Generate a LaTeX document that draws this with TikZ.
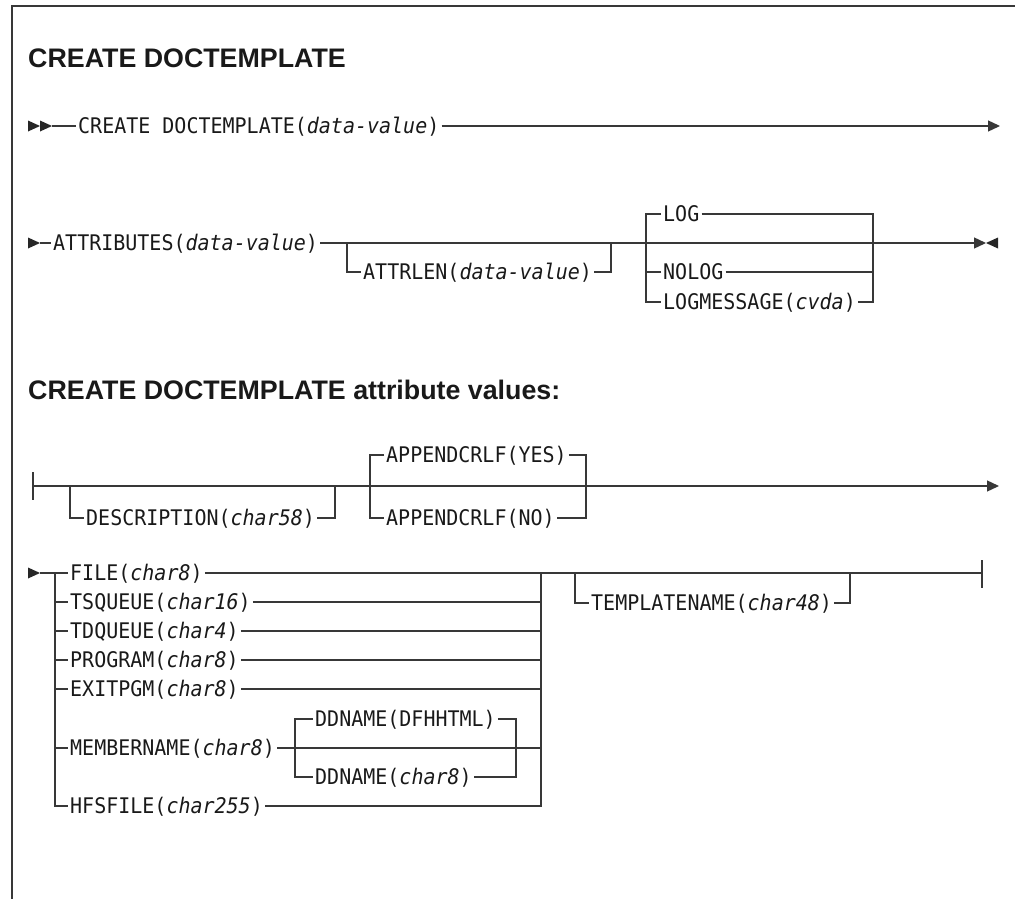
\documentclass[tikz,border=0pt]{standalone}
\usepackage{fontspec}
\setmainfont{Liberation Sans}
\newfontfamily\synfont[FakeStretch=0.93]{DejaVu Sans Mono}
\usetikzlibrary{arrows.meta}

\newcommand{\var}[1]{\textit{#1}}

\tikzset{
  rail/.style={line width=1.3pt, draw=black!78},
  tip/.style={-{Triangle[length=12pt, width=11pt]}},
  syn/.style={anchor=west, inner xsep=2pt, inner ysep=0pt, text height=15.7pt, text depth=0pt,
    text=black!90, font=\synfont\fontsize{21.5}{21.5}\selectfont},
  head/.style={anchor=base west, inner sep=0pt, text=black!90, font=\bfseries\fontsize{26.8}{30}\selectfont},
  fwd/.pic={\fill[black!85] (0, -5.5) -- (12, 0) -- (0, 5.5) -- cycle;}
}

\begin{document}
\begin{tikzpicture}[x=1pt, y=-1pt]
\useasboundingbox (0, 0) rectangle (1015, 899);
\draw[rail, line width=1.5pt] (1015, 6) -- (12, 6) -- (12, 899);

\node at (28, 68) [head] (title) {CREATE DOCTEMPLATE};

% command line
\pic at (28, 126) {fwd};
\pic at (40, 126) {fwd};
\coordinate (s1) at (52, 126);
\coordinate (e1) at (1000, 126);
\node at (76, 126) [syn] (create) {CREATE DOCTEMPLATE(\var{data-value})};
\draw[rail] (s1) -- (create.west);
\draw[rail, tip] (create.east) -- (e1);

% attributes, log
\pic at (28, 243) {fwd};
\coordinate (s2) at (40, 243);
\node at (51, 243) [syn] (attr) {ATTRIBUTES(\var{data-value})};
\node at (361, 272) [syn] (attrlen) {ATTRLEN(\var{data-value})};
\coordinate (al) at (347, 243);
\coordinate (ar) at (611, 243);
\node at (661, 214) [syn] (log) {LOG};
\node at (661, 272) [syn] (nolog) {NOLOG};
\node at (661, 302) [syn] (logmsg) {LOGMESSAGE(\var{cvda})};
\coordinate (ll) at (646, 243);
\coordinate (lr) at (873, 243);
\coordinate (e2) at (986, 243);
\draw[rail] (s2) -- (attr.west);
\draw[rail, tip] (attr.east) -- (e2);
\pic[xscale=-1] at (998, 243) {fwd};
\draw[rail] (al) |- (attrlen.west);
\draw[rail] (attrlen.east) -| (ar);
\draw[rail] (log.west) -| (ll) |- (logmsg.west);
\draw[rail] (nolog.west) -- (nolog.west -| ll);
\draw[rail] (log.east) -| (lr) |- (logmsg.east);
\draw[rail] (nolog.east) -- (nolog.east -| lr);

\node at (28, 399) [head] (subtitle) {CREATE DOCTEMPLATE attribute values:};

% description, appendcrlf
\coordinate (bt) at (33, 472);
\coordinate (bb) at (33, 500);
\coordinate (s3) at (33, 486);
\coordinate (e3) at (999, 486);
\node at (84, 518) [syn] (desc) {DESCRIPTION(\var{char58})};
\coordinate (dl) at (70, 486);
\coordinate (dr) at (335, 486);
\node at (384, 455) [syn] (yes) {APPENDCRLF(YES)};
\node at (384, 518) [syn] (no) {APPENDCRLF(NO)};
\coordinate (cl) at (370, 486);
\coordinate (cr) at (586, 486);
\draw[rail] (bt) -- (bb);
\draw[rail, tip] (s3) -- (e3);
\draw[rail] (dl) |- (desc.west);
\draw[rail] (desc.east) -| (dr);
\draw[rail] (yes.west) -| (cl) |- (no.west);
\draw[rail] (yes.east) -| (cr) |- (no.east);

% source, templatename
\pic at (28, 573) {fwd};
\coordinate (s4) at (40, 573);
\coordinate (gl) at (55, 573);
\coordinate (gr) at (541, 573);
\node at (68, 573) [syn] (file) {FILE(\var{char8})};
\node at (68, 602) [syn] (tsq) {TSQUEUE(\var{char16})};
\node at (68, 631) [syn] (tdq) {TDQUEUE(\var{char4})};
\node at (68, 660) [syn] (prog) {PROGRAM(\var{char8})};
\node at (68, 689) [syn] (exit) {EXITPGM(\var{char8})};
\node at (68, 748) [syn] (member) {MEMBERNAME(\var{char8})};
\node at (68, 806) [syn] (hfs) {HFSFILE(\var{char255})};
\node at (313, 719) [syn] (dddef) {DDNAME(DFHHTML)};
\node at (313, 777) [syn] (ddvar) {DDNAME(\var{char8})};
\coordinate (ml) at (295, 748);
\coordinate (mr) at (516, 748);
\node at (589, 603) [syn] (tname) {TEMPLATENAME(\var{char48})};
\coordinate (tl) at (575, 573);
\coordinate (tr) at (850, 573);
\coordinate (e4) at (982, 573);
\coordinate (et) at (982, 560);
\coordinate (eb) at (982, 588);
\draw[rail] (s4) -- (file.west);
\draw[rail] (file.east) -- (e4);
\draw[rail] (gl) |- (hfs.west);
\draw[rail] (gr) |- (hfs.east);
\foreach \n in {tsq, tdq, prog, exit, member} {
  \draw[rail] (\n.west -| gl) -- (\n.west);
  \draw[rail] (\n.east) -- (\n.east -| gr);
}
\draw[rail] (dddef.west) -| (ml) |- (ddvar.west);
\draw[rail] (dddef.east) -| (mr) |- (ddvar.east);
\draw[rail] (tl) |- (tname.west);
\draw[rail] (tname.east) -| (tr);
\draw[rail] (et) -- (eb);
\end{tikzpicture}
\end{document}
